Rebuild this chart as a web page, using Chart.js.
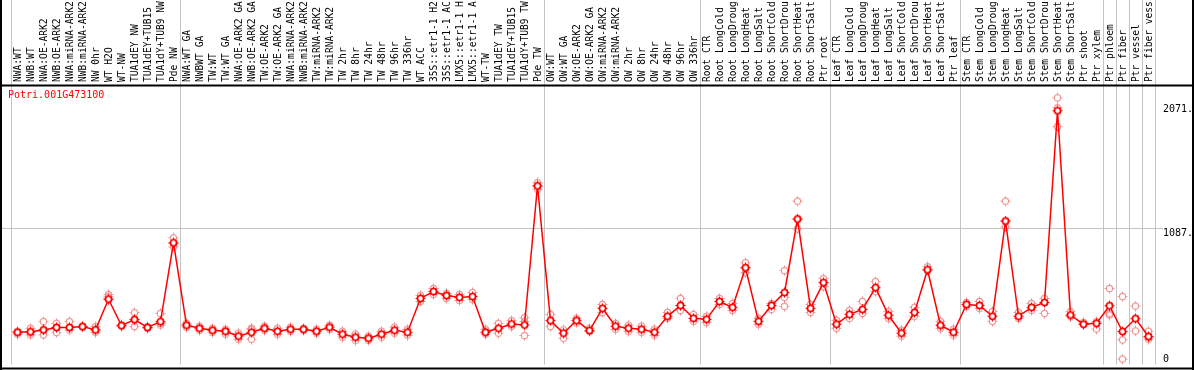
<!DOCTYPE html>
<html><head><meta charset="utf-8">
<script src="https://cdn.jsdelivr.net/npm/chart.js@4.4.1/dist/chart.umd.min.js"></script>
<style>html,body{margin:0;padding:0;background:#fff;overflow:hidden}#wrap{width:1194px;height:370px;position:relative}</style>
</head><body><div id="wrap"><canvas id="c" width="1194" height="370"></canvas></div>
<script>
const geneId = "Potri.001G473100";
const categories = [
"NWA:WT","NWB:WT","NWA:OE-ARK2","NWB:OE-ARK2","NWA:miRNA-ARK2","NWB:miRNA-ARK2","NW 0hr","WT H2O","WT-NW","TUA1dEY NW","TUA1dEY+TUB15","TUA1dY+TUB9 NW","Pde NW",
"NWA:WT GA","NWBWT GA","TW:WT","TW:WT GA","NWA:OE-ARK2 GA","NWB:OE-ARK2 GA","TW:OE-ARK2","TW:OE-ARK2 GA","NWA:miRNA-ARK2","NWB:miRNA-ARK2","TW:miRNA-ARK2","TW:miRNA-ARK2","TW 2hr","TW 8hr","TW 24hr","TW 48hr","TW 96hr","TW 336hr","WT ACC","35S::etr1-1 H2","35S::etr1-1 AC","LMX5::etr1-1 H","LMX5::etr1-1 A","WT-TW","TUA1dEY TW","TUA1dEY+TUB15","TUA1dY+TUB9 TW","Pde TW",
"OW:WT","OW:WT GA","OW:OE-ARK2","OW:OE-ARK2 GA","OW:miRNA-ARK2","OW:miRNA-ARK2","OW 2hr","OW 8hr","OW 24hr","OW 48hr","OW 96hr","OW 336hr",
"Root CTR","Root LongCold","Root LongDroug","Root LongHeat","Root LongSalt","Root ShortCold","Root ShortDrou","Root ShortHeat","Root ShortSalt","Ptr root",
"Leaf CTR","Leaf LongCold","Leaf LongDroug","Leaf LongHeat","Leaf LongSalt","Leaf ShortCold","Leaf ShortDrou","Leaf ShortHeat","Leaf ShortSalt","Ptr leaf",
"Stem CTR","Stem LongCold","Stem LongDroug","Stem LongHeat","Stem LongSalt","Stem ShortCold","Stem ShortDrou","Stem ShortHeat","Stem ShortSalt","Ptr shoot","Ptr xylem",
"Ptr phloem","Ptr fiber","Ptr vessel","Ptr fiber vess"
];
// index of first category of each group (plus the end)
const groupBoundaries = [0,13,41,53,63,73,84,85,86,87,88];
const meanValues = [
256,260,275,294,294,301,275,519,309,357,294,341,967,
312,288,272,264,225,256,288,264,280,280,264,296,241,217,209,241,272,256,525,580,548,533,540,256,288,322,314,1419,
349,249,349,270,446,304,288,280,256,383,469,367,
359,501,454,769,343,469,572,1156,446,651,
320,398,438,611,391,249,414,753,312,256,
477,469,383,1140,383,454,493,2016,393,320,327,
467,262,365,222
];
const rep1 = [
264,288,341,327,341,298,301,556,314,412,300,406,1006,
328,304,288,280,249,288,304,288,296,288,280,312,264,241,225,264,296,280,548,604,564,556,572,280,327,349,372,1445,
398,275,367,288,477,327,312,304,280,414,525,398,
383,525,485,809,367,485,746,1298,477,682,
351,430,501,659,422,272,454,777,343,280,
493,501,422,1298,414,485,525,2119,420,320,341,
604,540,464,264
];
const rep2 = [
241,256,275,294,294,304,275,538,305,357,288,327,935,
296,272,256,241,201,201,272,241,264,272,249,280,217,193,193,217,249,233,501,556,525,509,517,241,249,301,341,1419,
301,209,330,262,414,280,264,256,233,367,469,343,
335,477,430,730,320,438,533,1156,414,619,
288,367,406,580,367,225,383,746,288,233,
462,446,343,1140,367,430,406,2040,380,335,282,
393,196,267,201
];
const rep3 = [
null,235,235,254,275,null,256,519,null,301,null,314,960,
null,null,null,null,null,280,null,null,null,null,null,null,null,null,null,null,null,null,null,null,null,null,null,null,null,null,230,1393,
null,null,null,null,null,null,null,null,null,null,430,null,
null,null,null,769,null,null,462,1077,null,null,
null,null,null,null,null,null,null,null,null,null,
null,null,null,1093,null,null,null,1890,null,null,null,
404,43,null,217
];
const yTickValues = [0, 1087, 2071];
const yTickLabels = ["0", "1087.", "2071."];
const yMax = 2213;

const FONT = "'DejaVu Sans Mono', 'Liberation Mono', monospace";
const GRID = '#c4c4c4';

function makeMarker(color, lw, fill) {
  const c = document.createElement('canvas');
  c.width = 11; c.height = 11;
  const g = c.getContext('2d');
  g.strokeStyle = color; g.lineWidth = lw;
  g.beginPath(); g.arc(5.5, 5.5, 3.1, 0, Math.PI * 2);
  if (fill) { g.fillStyle = fill; g.fill(); }
  g.stroke();
  g.lineWidth = 1;
  g.beginPath();
  g.moveTo(5.5, 0.5); g.lineTo(5.5, 2.4);
  g.moveTo(5.5, 8.6); g.lineTo(5.5, 10.5);
  g.moveTo(0.5, 5.5); g.lineTo(2.4, 5.5);
  g.moveTo(8.6, 5.5); g.lineTo(10.5, 5.5);
  g.stroke();
  return c;
}
const meanMarker = makeMarker('#ff0000', 1.8, '#ffffff');
const repMarker = makeMarker('rgba(236,130,130,0.85)', 1.1, null);

const boundarySet = new Set(groupBoundaries);
const gridColor = (ctx) => (ctx.index === undefined || boundarySet.has(ctx.index)) ? GRID : 'rgba(0,0,0,0)';

const decor = {
  id: 'decor',
  beforeDatasetsDraw(chart) {
    const g = chart.ctx, y = chart.scales.y;
    g.save();
    g.strokeStyle = GRID; g.lineWidth = 1;
    const py = Math.round(y.getPixelForValue(yTickValues[1])) + 0.5;
    g.beginPath(); g.moveTo(0, py); g.lineTo(chart.chartArea.right + 8, py); g.stroke();
    g.restore();
  },
  afterDraw(chart) {
    const g = chart.ctx, y = chart.scales.y, a = chart.chartArea;
    g.save();
    g.fillStyle = '#000';
    g.font = "10px " + FONT;
    g.textAlign = 'left';
    yTickValues.forEach((v, i) => {
      const py = y.getPixelForValue(v);
      if (v === 0) { g.textBaseline = 'bottom'; g.fillText(yTickLabels[i], a.right + 8, py - 0.5); }
      else { g.textBaseline = 'top'; g.fillText(yTickLabels[i], a.right + 8, py + 0.5); }
    });
    g.fillStyle = '#ff0000';
    g.textBaseline = 'top';
    g.fillText(geneId, 8, 90);
    g.fillStyle = '#000';
    g.fillRect(0, 84.5, 1194, 2);
    g.fillRect(0, 367.5, 1194, 2);
    g.fillRect(0, 0, 2, 370);
    g.fillRect(1192, 0, 2, 370);
    g.restore();
  }
};

new Chart(document.getElementById('c'), {
  type: 'line',
  data: {
    labels: categories,
    datasets: [
      { label: 'mean', data: meanValues, borderColor: '#ff0000', borderWidth: 1.5, tension: 0,
        pointStyle: meanMarker, pointRadius: 4, pointHoverRadius: 4, fill: false },
      { label: 'rep1', data: rep1, showLine: false, pointStyle: repMarker, pointRadius: 4 },
      { label: 'rep2', data: rep2, showLine: false, pointStyle: repMarker, pointRadius: 4 },
      { label: 'rep3', data: rep3, showLine: false, pointStyle: repMarker, pointRadius: 4 }
    ]
  },
  options: {
    responsive: false, animation: false, devicePixelRatio: 1,
    layout: { padding: { left: 11, right: 39, top: 0, bottom: 3.5 } },
    plugins: { legend: { display: false }, tooltip: { enabled: false }, title: { display: false } },
    scales: {
      x: {
        type: 'category', position: 'top', offset: true,
        border: { display: false },
        grid: { offset: true, color: gridColor, tickColor: gridColor, lineWidth: 1, tickLength: 86, drawTicks: true },
        ticks: { autoSkip: false, minRotation: 90, maxRotation: 90, padding: -82, labelOffset: 13, color: '#000',
                 font: { family: FONT, size: 9.6 } },
        afterFit: (s) => { s.height = 86; }
      },
      y: { display: false, min: 0, max: yMax }
    }
  },
  plugins: [decor]
});
</script>
</body></html>
